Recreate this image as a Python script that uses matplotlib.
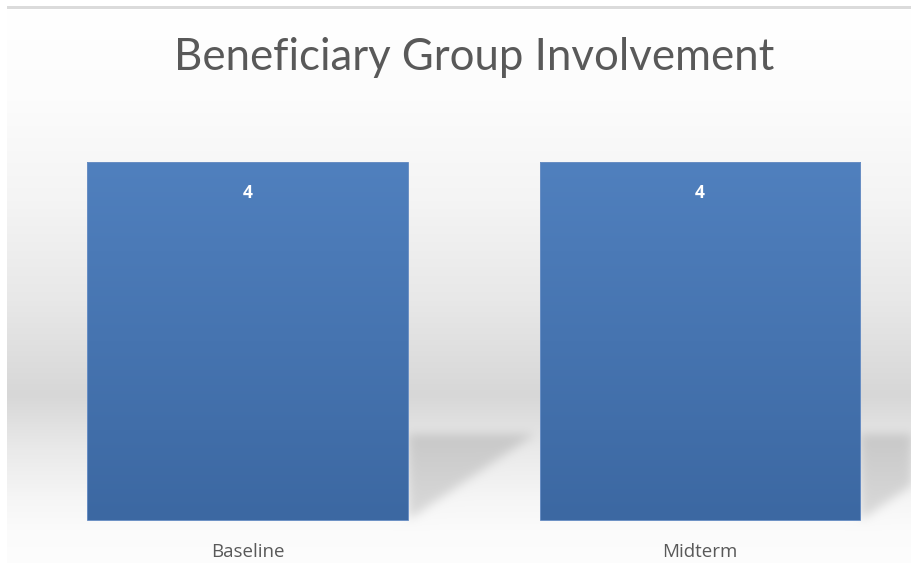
import numpy as np
import matplotlib
matplotlib.use("Agg")
import matplotlib.pyplot as plt
from matplotlib.path import Path

categories = ["Baseline", "Midterm"]
values = [4, 4]
title = "Beneficiary Group Involvement"

W, H = 912, 563
TEXT_GREY = "#595959"


def blur(img, sigma):
    # gaussian blur, done row by row then column by column
    r = int(3 * sigma)
    k = np.exp(-0.5 * (np.arange(-r, r + 1) / sigma) ** 2)
    k /= k.sum()
    img = np.apply_along_axis(lambda v: np.convolve(v, k, mode="same"), 1, img)
    img = np.apply_along_axis(lambda v: np.convolve(v, k, mode="same"), 0, img)
    return img


def background(shadow_tris):
    # vertical grey wash like the office chart style
    ys = np.arange(H)
    stops_y = [0, 9, 100, 200, 300, 395, 450, 500, 530, 563]
    stops_v = [255, 255, 252, 244, 232, 215, 234, 246, 251, 253]
    col = np.interp(ys, stops_y, stops_v) / 255.0
    img = np.repeat(col[:, None], W, axis=1)

    # cast shadows to the right of the bars
    gx, gy = np.meshgrid(np.arange(W) + 0.5, np.arange(H) + 0.5)
    pts = np.column_stack([gx.ravel(), gy.ravel()])
    mask = np.zeros(H * W)
    for tri in shadow_tris:
        mask = np.maximum(mask, Path(tri).contains_points(pts).astype(float))
    mask = blur(mask.reshape(H, W), 5)
    img = img * (1 - 0.13 * mask)

    img[:, :7] = 1.0
    img[:6, :] = 1.0
    img[6:9, 7:] = 0.86
    return np.dstack([img, img, img])


fig = plt.figure(figsize=(W / 100, H / 100), dpi=100)
bg = fig.add_axes([0, 0, 1, 1], zorder=0)
ax = fig.add_axes([0, 0, 1, 1], zorder=1)
ax.patch.set_alpha(0)

x = np.arange(len(categories))
ax.set_xlim(-0.547, 1.4685)
ax.set_ylim(-0.48, 5.81)
ax.axis("off")

bars = ax.bar(x, values, width=0.709, color="none", edgecolor="#6a8fc4",
              linewidth=0.7, zorder=3)

# shadow triangles, in pixel space (top-left origin)
tris = []
for b in bars:
    (x0, y0), (x1, y1) = ax.transData.transform(
        [(b.get_x(), 0), (b.get_x() + b.get_width(), b.get_height())])
    xr = x1
    yb = H - y0
    tris.append([(xr, yb - 86), (xr + 127, yb - 86), (xr + 3, yb - 2), (xr, yb - 2)])

bg.imshow(background(tris), extent=(0, W, H, 0), aspect="auto", interpolation="bilinear")
bg.set_xlim(0, W)
bg.set_ylim(H, 0)
bg.axis("off")

grad = np.linspace(0, 1, 256)[:, None]
cmap = matplotlib.colors.LinearSegmentedColormap.from_list("bar", ["#3c68a2", "#5080be"])
for b in bars:
    im = ax.imshow(grad, cmap=cmap, origin="lower", aspect="auto", zorder=2,
                   extent=(b.get_x(), b.get_x() + b.get_width(), 0, b.get_height()))
    im.set_clip_path(b)
ax.set_xlim(-0.547, 1.4685)
ax.set_ylim(-0.48, 5.81)

for xi, v, cat in zip(x, values, categories):
    ax.annotate(str(v), (xi, v), xytext=(0, -22), textcoords="offset points",
                ha="center", va="center", color="white", fontsize=12.5,
                fontweight="bold", family="Open Sans", zorder=4)
    ax.annotate(cat, (xi, 0), xytext=(0, -23), textcoords="offset points",
                ha="center", va="center", color=TEXT_GREY, fontsize=13.5,
                family="Open Sans", zorder=4)

fig.text(474 / W, 1 - 58 / H, title, ha="center", va="center",
         color=TEXT_GREY, fontsize=31.5, family="Lato")

fig.savefig("out.png", dpi=100)
